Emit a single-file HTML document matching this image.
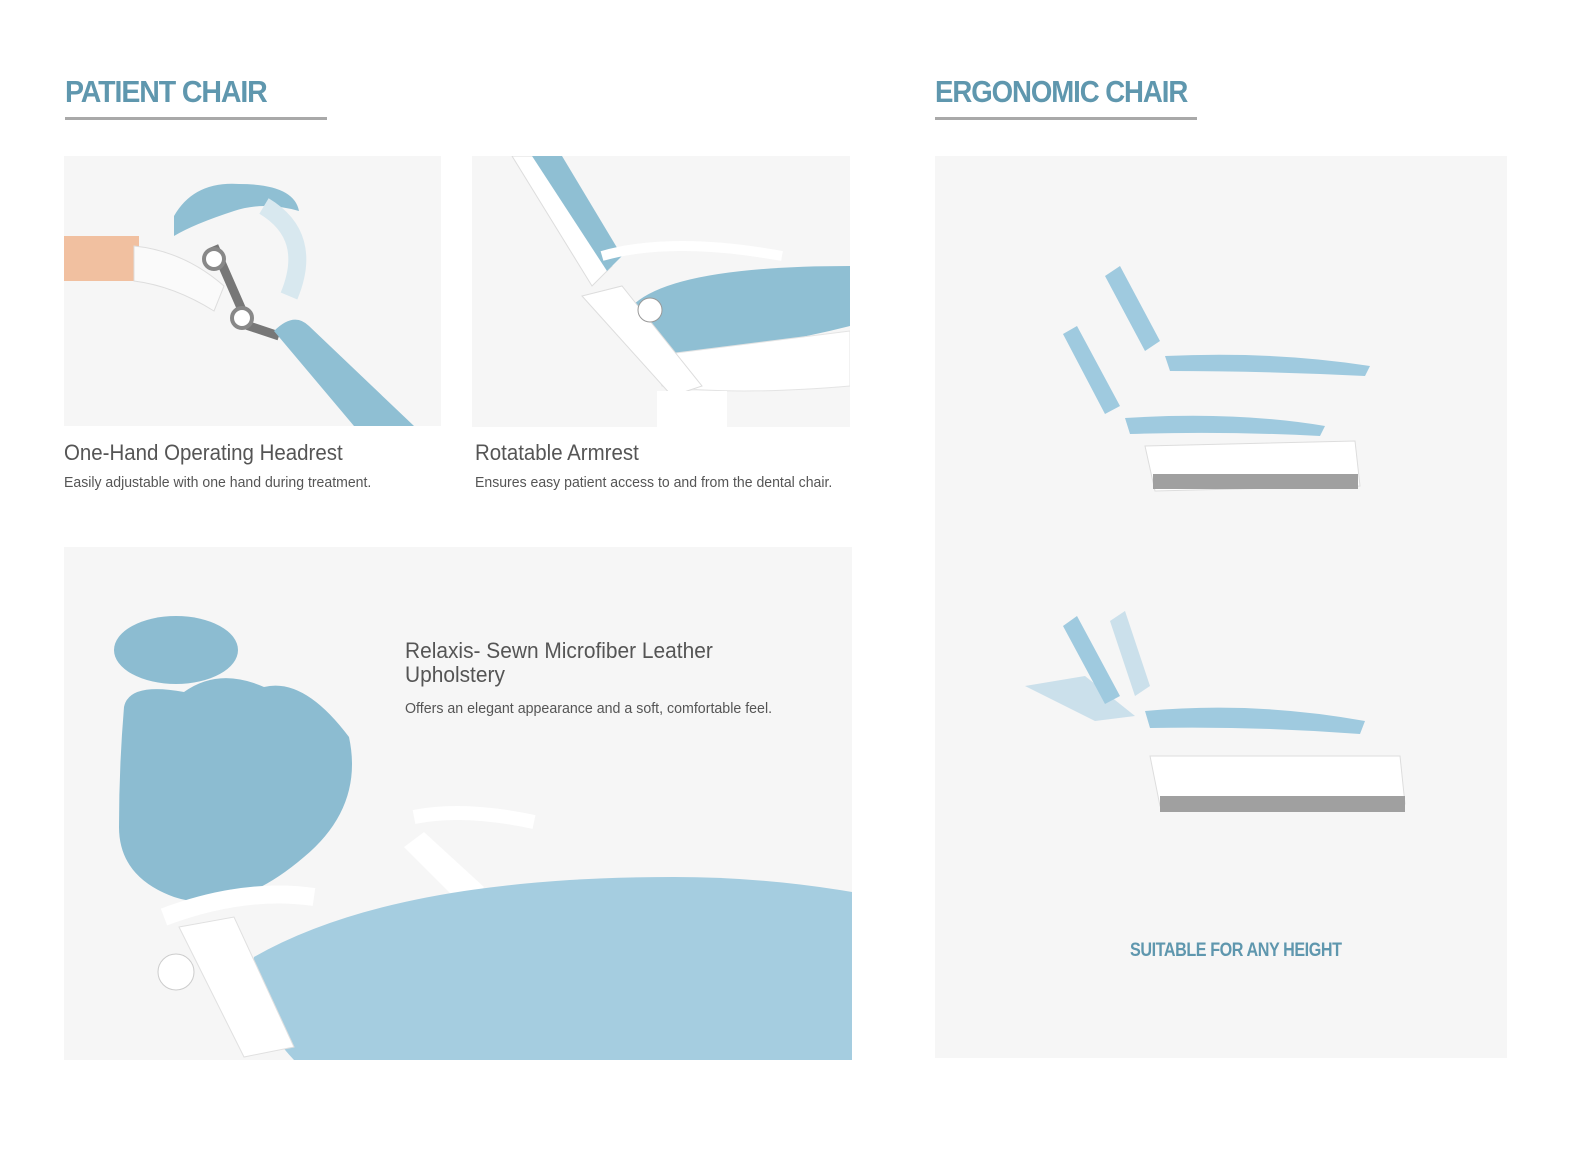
<!DOCTYPE html>
<html><head><meta charset="utf-8"><style>
body{margin:0;width:1588px;height:1158px;background:#fff;position:relative;overflow:hidden;font-family:"Liberation Sans",sans-serif}
.t{position:absolute;color:#5f97ae;font-weight:bold;font-size:31px;letter-spacing:-1.2px;white-space:nowrap;transform-origin:left top;transform:scaleX(.92)}
.ul{position:absolute;height:3px;background:#a9a9a9}
.p{position:absolute;background:#f6f6f6;overflow:hidden}
.s{position:absolute;white-space:nowrap;transform-origin:left top;color:#555}
.h{font-size:22px;transform:scaleX(.93)}
.d{font-size:14.5px;transform:scaleX(.97);color:#555}
</style></head><body>
<div class="t" style="left:65px;top:74px">PATIENT CHAIR</div>
<div class="ul" style="left:65px;top:117px;width:262px"></div>
<div class="t" style="left:935px;top:74px;transform:scaleX(.89)">ERGONOMIC CHAIR</div>
<div class="ul" style="left:935px;top:117px;width:262px"></div>

<div class="p" style="left:64px;top:156px;width:377px;height:270px">
<svg width="377" height="270">
<rect x="0" y="80" width="75" height="45" fill="#f1c0a0"/>
<path d="M70 90 Q120 95 160 130 L150 155 Q110 130 70 125Z" fill="#fafafa" stroke="#ddd"/>
<path d="M110 60 Q130 25 175 28 Q230 28 235 55 Q200 45 170 55 Q130 68 110 80Z" fill="#8fbfd3"/>
<path d="M200 50 Q250 80 225 140" stroke="#d8e8ef" stroke-width="18" fill="none"/>
<path d="M150 90 L185 170 L215 180" stroke="#777" stroke-width="9" fill="none"/>
<circle cx="150" cy="103" r="10" fill="#fff" stroke="#888" stroke-width="4"/>
<circle cx="178" cy="162" r="10" fill="#fff" stroke="#888" stroke-width="4"/>
<path d="M210 175 Q230 155 245 170 L350 270 L290 270Z" fill="#8fbfd3"/>
</svg></div>
<div class="p" style="left:472px;top:156px;width:378px;height:271px">
<svg width="378" height="271">
<path d="M40 0 L75 0 L140 110 L120 130Z" fill="#fff" stroke="#ddd"/>
<path d="M60 0 L90 0 L150 100 L135 115Z" fill="#8fbfd3"/>
<path d="M130 100 Q200 80 310 100" stroke="#fff" stroke-width="10" fill="none"/>
<path d="M160 150 Q200 110 378 110 L378 170 Q300 190 200 200Z" fill="#8fbfd3"/>
<path d="M180 200 L378 175 L378 230 Q260 240 190 230Z" fill="#fff" stroke="#e4e4e4"/>
<path d="M110 140 L150 130 L230 230 L200 240Z" fill="#fff" stroke="#ddd"/>
<circle cx="178" cy="154" r="12" fill="#fff" stroke="#999"/>
<rect x="185" y="235" width="70" height="36" fill="#fff"/>
</svg></div>
<div class="s h" style="left:64px;top:440px">One-Hand Operating Headrest</div>
<div class="s d" style="left:64px;top:475px">Easily adjustable with one hand during treatment.</div>
<div class="s h" style="left:475px;top:440px">Rotatable Armrest</div>
<div class="s d" style="left:475px;top:475px">Ensures easy patient access to and from the dental chair.</div>

<div class="p" style="left:64px;top:547px;width:788px;height:513px">
<svg width="788" height="513">
<ellipse cx="112" cy="103" rx="62" ry="34" fill="#8cbcd1"/>
<path d="M60 160 Q65 135 120 145 Q155 120 200 140 Q240 130 285 190 Q300 260 240 310 Q170 370 110 350 Q55 330 55 280 Q55 220 60 160Z" fill="#8cbcd1"/>
<path d="M350 270 Q400 260 470 275" stroke="#fff" stroke-width="14" fill="none"/>
<path d="M360 285 L420 340 L400 360 L340 300Z" fill="#fff"/>
<path d="M190 410 Q330 330 610 330 Q700 330 788 345 L788 513 L230 513 Q180 460 190 410Z" fill="#a5cde0"/>
<path d="M100 370 Q180 340 250 350" stroke="#fff" stroke-width="18" fill="none"/>
<path d="M115 380 L180 510 L230 500 L170 370Z" fill="#fff" stroke="#e0e0e0"/>
<circle cx="112" cy="425" r="18" fill="#fff" stroke="#ccc"/>
</svg>
<div class="s" style="left:341px;top:92px;font-size:22px;transform:scaleX(.95);color:#555;line-height:24px">Relaxis- Sewn Microfiber Leather<br>Upholstery</div>
<div class="s d" style="left:341px;top:154px;transform:scaleX(.98)">Offers an elegant appearance and a soft, comfortable feel.</div>
</div>

<div class="p" style="left:935px;top:156px;width:572px;height:902px">
<svg width="572" height="902">
<g fill="#9fcadf">
<path d="M170 120 L185 110 L225 185 L210 195Z"/>
<path d="M230 200 Q340 195 435 210 L430 220 Q330 215 235 215Z"/>
<path d="M128 178 L142 170 L185 250 L170 258Z"/>
<path d="M190 262 Q300 255 390 270 L385 280 Q290 275 195 278Z"/>
<path d="M128 470 L142 460 L185 540 L170 548Z"/>
<path d="M175 465 L190 455 L215 530 L200 540Z" opacity=".5"/>
<path d="M90 530 L150 520 L200 560 L160 565Z" opacity=".5"/>
<path d="M210 555 Q320 545 430 565 L425 578 Q320 570 215 572Z"/>
</g>
<g fill="#fff" stroke="#ddd">
<path d="M210 290 L420 285 L425 330 L220 335Z"/>
<path d="M215 600 L465 600 L470 648 L225 650Z"/>
</g>
<rect x="218" y="318" width="205" height="15" fill="#a0a0a0"/>
<rect x="225" y="640" width="245" height="16" fill="#a0a0a0"/>
</svg>
<div class="s" style="left:195px;top:784px;color:#5f97ae;font-weight:bold;font-size:19px;transform:scaleX(.85);letter-spacing:-.5px">SUITABLE FOR ANY HEIGHT</div>
</div>
</body></html>
